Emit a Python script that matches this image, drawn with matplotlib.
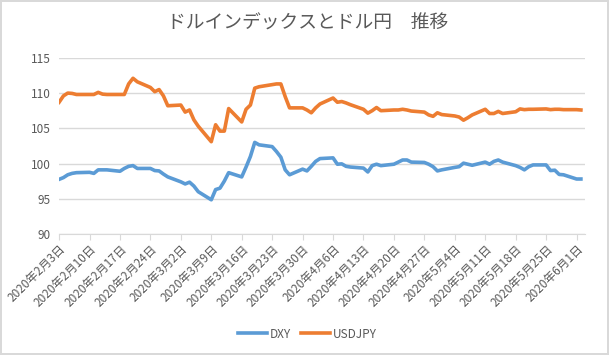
import numpy as np
import pandas as pd
import matplotlib
matplotlib.use("Agg")
import matplotlib.pyplot as plt
import matplotlib.dates as mdates

plt.rcParams['font.family'] = ['Noto Sans CJK JP', 'DejaVu Sans']

# business days 2020-02-03 .. 2020-06-02
dates = pd.bdate_range("2020-02-03", "2020-06-02")

dxy = [97.75, 98.0, 98.4, 98.6, 98.7, 98.75, 98.6, 99.1, 99.1, 99.1,
       98.9, 99.3, 99.6, 99.7, 99.3, 99.3, 99.0, 98.95, 98.5, 98.1,
       97.4, 97.1, 97.35, 96.8, 96.0, 94.85, 96.3, 96.5, 97.5, 98.7,
       98.1, 99.5, 101.0, 103.0, 102.65, 102.4, 101.7, 100.9, 99.1, 98.4,
       99.2, 98.95,
       99.6, 100.3, 100.7, 100.8, 99.9, 99.95, 99.6, 99.5, 99.35, 98.8,
       99.7, 99.9, 99.7, 99.9, 100.2, 100.5, 100.5, 100.2, 100.15, 99.9,
       99.55, 98.95,
       99.1, 99.45, 99.55, 100.05, 99.9, 99.75, 100.2, 99.9, 100.3, 100.5,
       100.2, 99.7, 99.45, 99.1, 99.55, 99.8, 99.8, 99.0, 99.05, 98.45,
       98.4,
       97.8, 97.8]

usdjpy = [108.7, 109.6, 110.0, 109.95, 109.8, 109.8, 109.8, 110.1, 109.85, 109.8,
          109.8, 109.8, 111.3, 112.1, 111.6, 110.8, 110.2, 110.5, 109.6, 108.2,
          108.3, 107.3, 107.6, 106.2, 105.3, 103.1, 105.5, 104.6, 104.6, 107.8,
          105.9, 107.7, 108.3, 110.7, 110.9, 111.2, 111.3, 111.3, 109.5, 107.9,
          107.9, 107.6,
          107.2, 107.9, 108.45, 109.3, 108.7, 108.8, 108.6, 108.35, 107.7, 107.15,
          107.5, 107.95, 107.5, 107.6, 107.6, 107.7, 107.6, 107.45, 107.3, 106.9,
          106.7, 107.2,
          106.95, 106.75, 106.6, 106.15, 106.5, 106.9, 107.7, 107.1, 107.1, 107.4,
          107.1, 107.35, 107.75, 107.65, 107.7, 107.7, 107.75, 107.65, 107.7, 107.7,
          107.65,
          107.65, 107.6]

tick_dates = pd.date_range("2020-02-03", "2020-06-01", freq="7D")
tick_labels = ["{}年{}月{}日".format(d.year, d.month, d.day) for d in tick_dates]

gray = "#595959"

fig = plt.figure(figsize=(6.09, 3.55), dpi=100, edgecolor="#D9D9D9", linewidth=1.5)
ax = fig.add_axes([0.097, 0.341, 0.864, 0.496])

ax.plot(dates, dxy, color="#5B9BD5", lw=2.6, label="DXY")
ax.plot(dates, usdjpy, color="#ED7D31", lw=2.6, label="USDJPY")

ax.set_ylim(90, 115)
ax.set_yticks([90, 95, 100, 105, 110, 115])
ax.set_xlim(pd.Timestamp("2020-02-03"), pd.Timestamp("2020-06-03"))
ax.set_xticks(tick_dates)
ax.set_xticklabels(tick_labels, rotation=45, ha="right", rotation_mode="anchor")

ax.grid(axis="y", color="#D9D9D9", lw=1)
ax.set_axisbelow(True)
for s in ["top", "right", "left"]:
    ax.spines[s].set_visible(False)
ax.spines["bottom"].set_color("#D9D9D9")
ax.tick_params(axis="y", length=0, labelsize=8.5, labelcolor=gray, pad=6)
ax.tick_params(axis="x", length=4, color="#D9D9D9", labelsize=8.5, labelcolor=gray, pad=2)

fig.text(0.505, 0.935, "ドルインデックスとドル円　推移", ha="center", va="center",
         fontsize=13.5, color=gray)
fig.legend(loc="center", bbox_to_anchor=(0.505, 0.059), ncol=2, frameon=False,
           fontsize=8.5, labelcolor=gray, handlelength=2.4, handletextpad=0.25,
           columnspacing=0.9)

fig.savefig("out.png", dpi=100)
